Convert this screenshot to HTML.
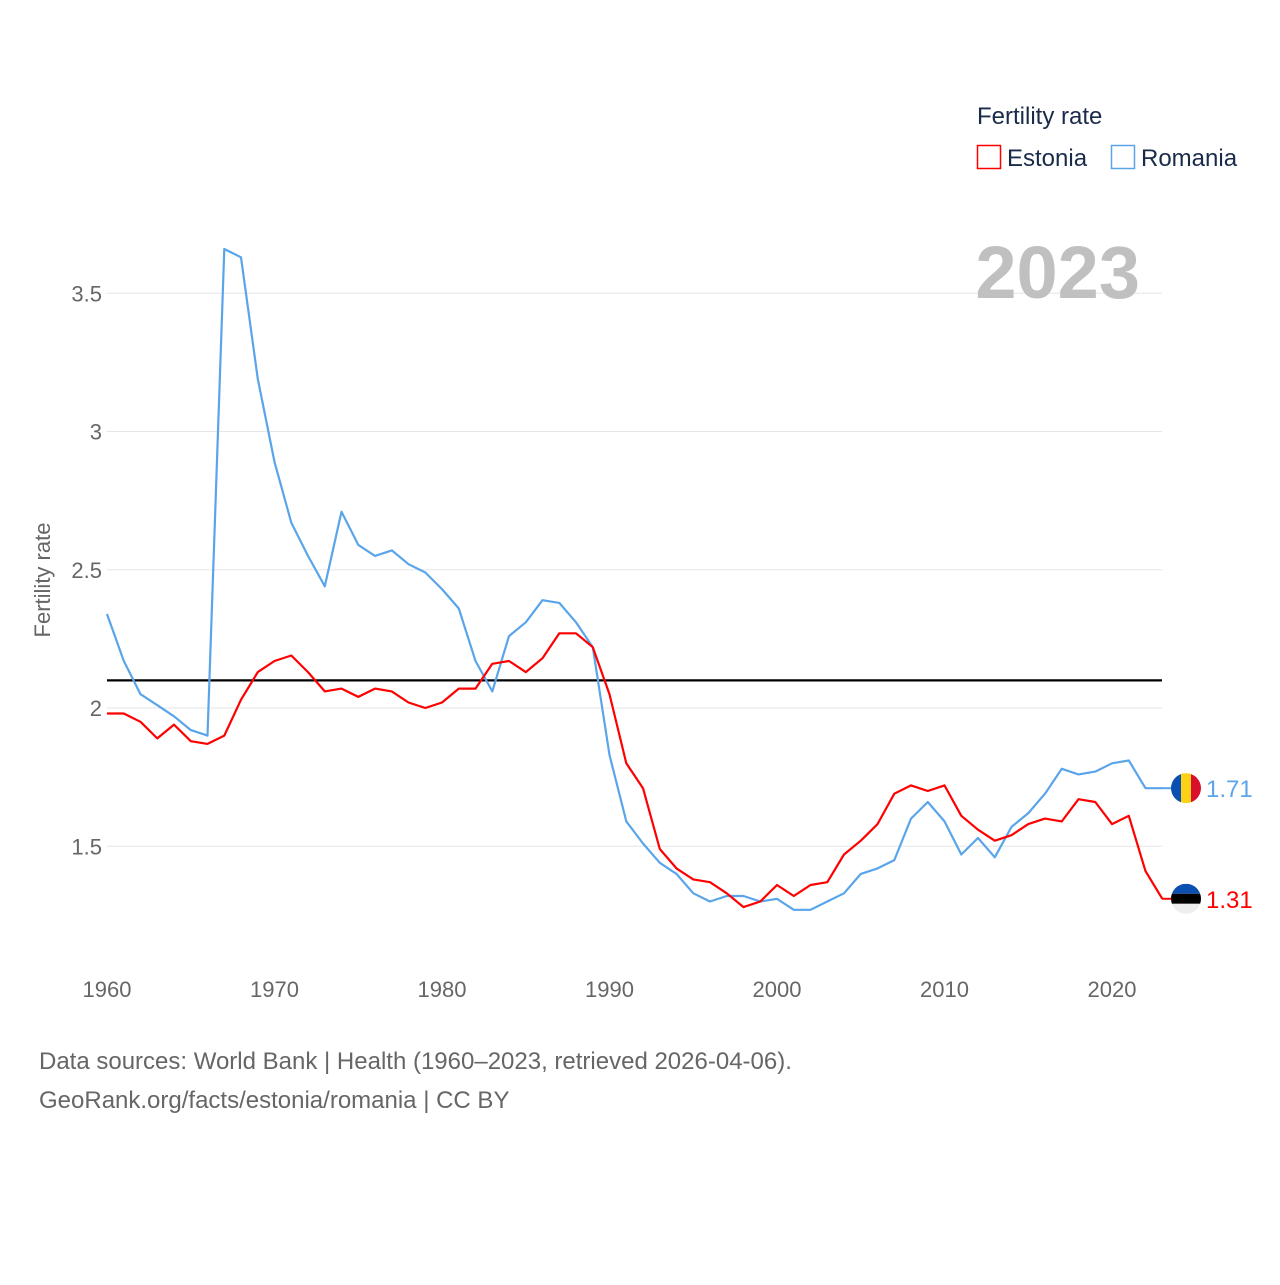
<!DOCTYPE html>
<html><head><meta charset="utf-8"><style>
body{margin:0;background:#fff;font-family:"Liberation Sans",sans-serif;}
svg text{font-family:"Liberation Sans",sans-serif;}
</style></head><body>
<svg id="chart" width="1280" height="1280" viewBox="0 0 1280 1280">
<g id="grid"></g>
<g id="ylabels"></g>
<g id="xlabels"></g>
<text x="50" y="580" transform="rotate(-90 50 580)" text-anchor="middle" font-size="22" fill="#666">Fertility rate</text>
<text x="1140" y="298" text-anchor="end" font-size="74" font-weight="bold" fill="#c0c0c0">2023</text>
<g id="series"></g>
<g>
<text x="977" y="124" font-size="24" fill="#1a2b4a">Fertility rate</text>
<g><rect x="977.5" y="145.5" width="23" height="23" fill="none" stroke="#ff0000" stroke-width="1.5"/><text x="1007" y="166" font-size="24" fill="#1a2b4a">Estonia</text></g>
<g><rect x="1111.5" y="145.5" width="23" height="23" fill="none" stroke="#5aa5ea" stroke-width="1.5"/><text x="1141" y="166" font-size="24" fill="#1a2b4a">Romania</text></g>
</g>
<text x="39" y="1069" font-size="24" fill="#666">Data sources: World Bank | Health (1960–2023, retrieved 2026-04-06).</text>
<text x="39" y="1108" font-size="24" fill="#666">GeoRank.org/facts/estonia/romania | CC BY</text>
</svg>
<script>
const years=[];for(let y=1960;y<=2023;y++)years.push(y);
const romania=[2.34,2.17,2.05,2.01,1.97,1.92,1.90,3.66,3.63,3.19,2.89,2.67,2.55,2.44,2.71,2.59,2.55,2.57,2.52,2.49,2.43,2.36,2.17,2.06,2.26,2.31,2.39,2.38,2.31,2.22,1.83,1.59,1.51,1.44,1.40,1.33,1.30,1.32,1.32,1.30,1.31,1.27,1.27,1.30,1.33,1.40,1.42,1.45,1.60,1.66,1.59,1.47,1.53,1.46,1.57,1.62,1.69,1.78,1.76,1.77,1.80,1.81,1.71,1.71];
const estonia=[1.98,1.98,1.95,1.89,1.94,1.88,1.87,1.90,2.03,2.13,2.17,2.19,2.13,2.06,2.07,2.04,2.07,2.06,2.02,2.00,2.02,2.07,2.07,2.16,2.17,2.13,2.18,2.27,2.27,2.22,2.05,1.80,1.71,1.49,1.42,1.38,1.37,1.33,1.28,1.30,1.36,1.32,1.36,1.37,1.47,1.52,1.58,1.69,1.72,1.70,1.72,1.61,1.56,1.52,1.54,1.58,1.60,1.59,1.67,1.66,1.58,1.61,1.41,1.31];
const yTicks=[1.5,2,2.5,3,3.5];
const yTickLabels=["1.5","2","2.5","3","3.5"];
const xTicks=[1960,1970,1980,1990,2000,2010,2020];
const replacement=2.1;
const NS="http://www.w3.org/2000/svg";
const xs=y=>107+(y-1960)*16.75;
const ys=v=>708-(v-2)*276.5;
function mk(t,a,p){const e=document.createElementNS(NS,t);for(const k in a)e.setAttribute(k,a[k]);p.appendChild(e);return e;}
const grid=document.getElementById('grid'),yl=document.getElementById('ylabels'),xl=document.getElementById('xlabels'),se=document.getElementById('series');
yTicks.forEach((v,i)=>{
 const l=mk('line',{x1:107,x2:1162,y1:ys(v),y2:ys(v),stroke:'#e6e6e6','stroke-width':1},grid);
 
 
 const t=mk('text',{x:102,y:ys(v)+8,'text-anchor':'end','font-size':22,fill:'#666'},yl);t.textContent=yTickLabels[i];
 
 
});
xTicks.forEach(y=>{
 const t=mk('text',{x:xs(y),y:997,'text-anchor':'middle','font-size':22,fill:'#666'},xl);t.textContent=y;
 
 
});
const rl=mk('line',{x1:107,x2:1162,y1:ys(replacement),y2:ys(replacement),stroke:'#000','stroke-width':2.2},se);


function line(vals,color,name){
 const d=vals.map((v,i)=>(i?'L':'M')+xs(years[i]).toFixed(1)+','+ys(v).toFixed(1)).join('');
 const p=mk('path',{d:d,fill:'none',stroke:color,'stroke-width':2.2,'stroke-linejoin':'round'},se);
 
 
}
line(romania,'#5aa5ea','romania-line');
line(estonia,'#ff0000','estonia-line');
function endLabel(vals,color,name,flag){
 const v=vals[vals.length-1],y=ys(v);
 mk('line',{x1:1162,x2:1172,y1:y,y2:y,stroke:color,'stroke-width':2},se);
 const g=mk('g',{},se);
 
 
 const cid='c'+name;
 const cp=mk('clipPath',{id:cid},g);mk('circle',{cx:1186,cy:y,r:15},cp);
 const gg=mk('g',{'clip-path':'url(#'+cid+')'},g);
 if(flag==='ro'){mk('rect',{x:1171,y:y-15,width:10,height:30,fill:'#0b4fb0'},gg);mk('rect',{x:1181,y:y-15,width:10,height:30,fill:'#fcd116'},gg);mk('rect',{x:1191,y:y-15,width:10,height:30,fill:'#d8102b'},gg);}
 else{mk('rect',{x:1171,y:y-15,width:30,height:10,fill:'#0b4fb0'},gg);mk('rect',{x:1171,y:y-5,width:30,height:10,fill:'#000'},gg);mk('rect',{x:1171,y:y+5,width:30,height:10,fill:'#eee'},gg);}
 const t=mk('text',{x:1206,y:y+9,'font-size':24,fill:color},se);t.textContent=v.toFixed(2);
 
 
}
endLabel(romania,'#5aa5ea','romania','ro');
endLabel(estonia,'#ff0000','estonia','ee');
</script>
</body></html>
